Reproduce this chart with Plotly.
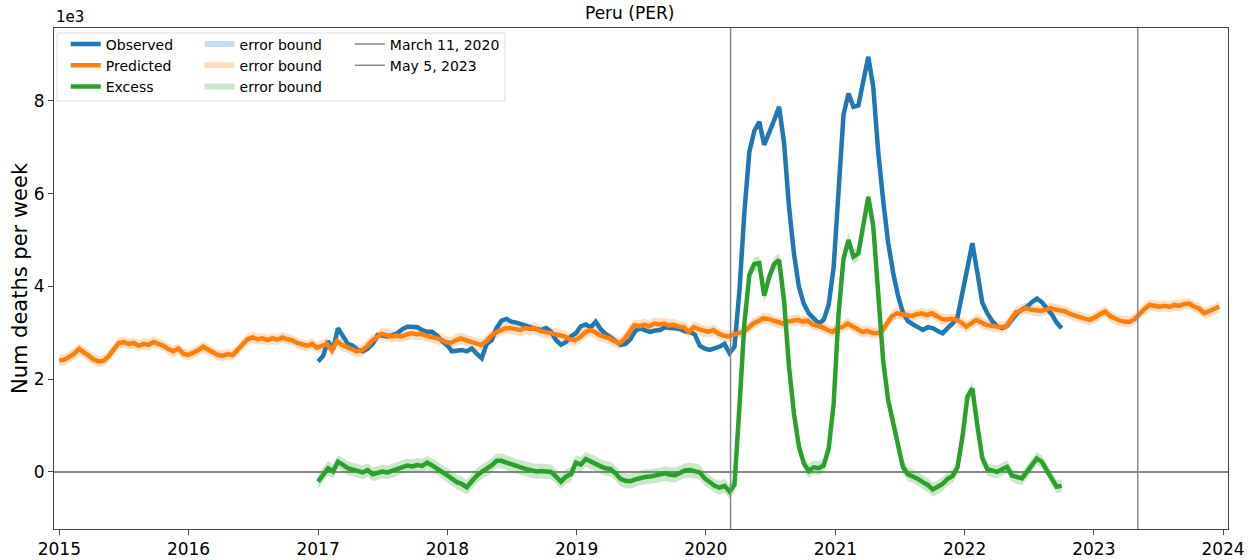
import numpy as np
import pandas as pd
import plotly.graph_objects as go

# weekly-ish series (biweekly samples), values in thousands of deaths per week
predicted = [
    2.40, 2.42, 2.48, 2.55, 2.65, 2.58, 2.50, 2.42, 2.38, 2.40, 2.50, 2.65, 2.78,
    2.80, 2.76, 2.78, 2.72, 2.76, 2.74, 2.80, 2.76, 2.72, 2.65, 2.60, 2.66, 2.55,
    2.52, 2.56, 2.62, 2.70, 2.64, 2.58, 2.52, 2.50, 2.54, 2.52, 2.62, 2.75, 2.86,
    2.90, 2.86, 2.88, 2.84, 2.88, 2.85, 2.90, 2.86, 2.84, 2.78, 2.74, 2.72, 2.76,
    2.68, 2.72, 2.76, 2.62, 2.82, 2.74, 2.70, 2.64, 2.60, 2.62, 2.70, 2.82, 2.90,
    2.98, 2.95, 2.92, 2.94, 2.92, 2.96, 2.99, 2.97, 2.98, 2.94, 2.92, 2.88, 2.86,
    2.80, 2.78, 2.84, 2.88, 2.84, 2.80, 2.76, 2.74, 2.80, 2.92, 3.00, 3.06, 3.10,
    3.10, 3.08, 3.06, 3.10, 3.08, 3.10, 3.04, 3.02, 2.99, 2.98, 2.95, 2.92, 2.86,
    2.84, 2.90, 3.00, 3.06, 3.02, 2.95, 2.92, 2.88, 2.82, 2.77, 2.86, 3.02, 3.16,
    3.14, 3.17, 3.14, 3.20, 3.18, 3.20, 3.16, 3.17, 3.13, 3.12, 3.02, 3.12, 3.08,
    3.04, 3.02, 3.06, 2.98, 2.94, 2.92, 2.96, 3.00, 3.02, 3.10, 3.20, 3.25, 3.31,
    3.30, 3.26, 3.22, 3.20, 3.24, 3.27, 3.28, 3.24, 3.26, 3.18, 3.16, 3.12, 3.06,
    3.02, 3.10, 3.12, 3.20, 3.14, 3.08, 3.02, 3.04, 3.00, 2.99, 3.04, 3.20, 3.36,
    3.42, 3.40, 3.38, 3.36, 3.40, 3.42, 3.38, 3.42, 3.36, 3.30, 3.28, 3.30, 3.28,
    3.22, 3.13, 3.20, 3.28, 3.22, 3.17, 3.15, 3.13, 3.12, 3.14, 3.30, 3.44, 3.48,
    3.53, 3.50, 3.48, 3.47, 3.50, 3.53, 3.50, 3.48, 3.46, 3.40, 3.36, 3.34, 3.30,
    3.28, 3.34, 3.40, 3.46, 3.36, 3.30, 3.26, 3.24, 3.24, 3.30, 3.42, 3.52, 3.60,
    3.58, 3.56, 3.58, 3.56, 3.60, 3.58, 3.62, 3.63, 3.56, 3.52, 3.42, 3.46, 3.50,
    3.56,
]

observed = [
    2.38, 2.50, 2.82, 2.64, 3.10, 2.92, 2.76, 2.72, 2.63, 2.60, 2.66, 2.76, 2.95,
    2.94, 2.92, 2.95, 2.99, 3.08, 3.13, 3.13, 3.12, 3.06, 3.02, 3.02, 2.94, 2.82,
    2.74, 2.60, 2.62, 2.63, 2.60, 2.66, 2.55, 2.45, 2.76, 2.84, 3.10, 3.26, 3.30,
    3.24, 3.22, 3.18, 3.15, 3.12, 3.08, 3.06, 3.10, 3.02, 2.84, 2.74, 2.80, 2.92,
    2.99, 3.14, 3.18, 3.12, 3.24, 3.08, 2.97, 2.90, 2.81, 2.74, 2.76, 2.86, 3.04,
    3.10, 3.05, 3.02, 3.05, 3.06, 3.12, 3.12, 3.10, 3.08, 3.03, 3.02, 2.96, 2.72,
    2.66, 2.63, 2.66, 2.70, 2.76, 2.56, 2.70, 3.90, 5.60, 6.90, 7.35, 7.55, 7.05,
    7.35, 7.58, 7.87, 7.10, 5.72, 4.71, 3.99, 3.62, 3.42, 3.31, 3.20, 3.28, 3.60,
    4.40, 6.20, 7.70, 8.16, 7.87, 7.90, 8.40, 8.95, 8.30, 6.90, 5.85, 4.95, 4.30,
    3.80, 3.43, 3.25, 3.18, 3.12, 3.06, 3.12, 3.10, 3.04, 2.99, 3.10, 3.20, 3.34,
    3.90, 4.50, 4.93, 4.30, 3.65, 3.42, 3.25, 3.14, 3.10, 3.15, 3.30, 3.42, 3.50,
    3.56, 3.66, 3.74, 3.66, 3.52, 3.40, 3.22, 3.10,
]

excess = [
    -0.21, -0.05, 0.08, 0.01, 0.22, 0.15, 0.08, 0.05, 0.02, -0.01, 0.04, -0.05, -0.02,
    0.01, -0.01, 0.03, 0.06, 0.11, 0.14, 0.12, 0.15, 0.13, 0.20, 0.14, 0.08, 0.00,
    -0.07, -0.14, -0.22, -0.26, -0.33, -0.20, -0.08, 0.00, 0.06, 0.14, 0.24, 0.24, 0.20,
    0.16, 0.12, 0.10, 0.06, 0.04, 0.01, 0.02, 0.01, 0.00, -0.10, -0.21, -0.10, -0.05,
    0.20, 0.16, 0.28, 0.22, 0.18, 0.12, 0.08, 0.06, -0.03, -0.15, -0.19, -0.20, -0.16,
    -0.13, -0.11, -0.10, -0.08, -0.07, -0.03, -0.06, -0.07, -0.02, 0.03, 0.04, 0.02, -0.01,
    -0.14, -0.22, -0.30, -0.34, -0.30, -0.42, -0.28, 1.40, 3.20, 4.25, 4.48, 4.50, 3.80,
    4.20, 4.48, 4.57, 3.70, 2.27, 1.26, 0.55, 0.18, 0.02, 0.10, 0.08, 0.14, 0.50,
    1.45, 3.40, 4.60, 5.00, 4.64, 4.71, 5.29, 5.93, 5.30, 3.90, 2.40, 1.55, 1.05,
    0.50, 0.10, -0.05, -0.09, -0.15, -0.22, -0.28, -0.38, -0.33, -0.26, -0.15, -0.09, 0.10,
    0.76, 1.62, 1.80, 1.00, 0.30, 0.06, 0.02, 0.00, 0.06, 0.11, -0.08, -0.12, -0.14,
    0.00, 0.14, 0.29, 0.22, 0.05, -0.14, -0.32, -0.30,
]

# error bound half widths by year, 2015..2024
years = [2015, 2016, 2017, 2018, 2019, 2020, 2021, 2022, 2023, 2024]
pred_err = [0.12, 0.12, 0.13, 0.13, 0.13, 0.12, 0.12, 0.12, 0.12, 0.12]
obs_err = [0.02, 0.02, 0.02, 0.02, 0.02, 0.02, 0.02, 0.02, 0.02, 0.02]
exc_err = [0.15, 0.15, 0.15, 0.16, 0.16, 0.15, 0.15, 0.14, 0.14, 0.14]

event_dates = ["2020-03-11", "2023-05-05"]
event_names = ["March 11, 2020", "May 5, 2023"]

pred_dates = pd.date_range("2015-01-01", periods=len(predicted), freq="14D")
obs_dates = pd.date_range("2017-01-01", periods=len(observed), freq="14D")

BLUE, ORANGE, GREEN = "#1f77b4", "#ff7f0e", "#2ca02c"
FONT = "DejaVu Sans"


def band(dates, values, err):
    v = np.array(values)
    e = np.array([err[years.index(d.year)] for d in dates])
    x = list(dates) + list(dates[::-1])
    y = list(v + e) + list((v - e)[::-1])
    return x, y


fig = go.Figure()

for dates, vals, err, col in [
    (obs_dates, observed, obs_err, "rgba(31,119,180,0.25)"),
    (pred_dates, predicted, pred_err, "rgba(255,127,14,0.25)"),
    (obs_dates, excess, exc_err, "rgba(44,160,44,0.25)"),
]:
    bx, by = band(dates, vals, err)
    fig.add_trace(go.Scatter(x=bx, y=by, fill="toself", fillcolor=col, mode="none",
                             name="error bound", legend="legend2", hoverinfo="skip"))

fig.add_trace(go.Scatter(x=obs_dates, y=observed, mode="lines", name="Observed",
                         line=dict(color=BLUE, width=4.5), legend="legend"))
fig.add_trace(go.Scatter(x=pred_dates, y=predicted, mode="lines", name="Predicted",
                         line=dict(color=ORANGE, width=4.5), legend="legend"))
fig.add_trace(go.Scatter(x=obs_dates, y=excess, mode="lines", name="Excess",
                         line=dict(color=GREEN, width=4.5), legend="legend"))

for d, n in zip(event_dates, event_names):
    fig.add_shape(type="line", x0=d, x1=d, y0=0, y1=1, xref="x", yref="paper",
                  line=dict(color="#888888", width=1.5), showlegend=True, name=n,
                  legend="legend3")

# legend frame
fig.add_shape(type="rect", xref="paper", yref="paper", x0=0.0026, x1=0.384, y0=0.854, y1=0.99,
              line=dict(color="#dddddd", width=1), fillcolor="rgba(255,255,255,0.8)", layer="below")

leg_common = dict(yanchor="top", xanchor="left", bgcolor="rgba(0,0,0,0)", borderwidth=0,
                  font=dict(family=FONT, size=14, color="#000"), tracegroupgap=0, itemwidth=30)

fig.update_layout(
    width=1259, height=560,
    margin=dict(l=54, r=31, t=28, b=31),
    paper_bgcolor="white", plot_bgcolor="white",
    font=dict(family=FONT, color="#000"),
    showlegend=True,
    legend=dict(x=0.010, y=0.999, **leg_common),
    legend2=dict(x=0.124, y=0.999, **leg_common),
    legend3=dict(x=0.252, y=0.999, **leg_common),
    annotations=[
        dict(text="Peru (PER)", x=0.49, y=1, xref="paper", yref="paper", xanchor="center",
             yanchor="bottom", yshift=3, showarrow=False, font=dict(size=17, family=FONT)),
        dict(text="1e3", x=0, y=1, xref="paper", yref="paper", xanchor="left",
             yanchor="bottom", yshift=0, showarrow=False, font=dict(size=15, family=FONT)),
    ],
)

fig.update_xaxes(
    type="date", range=["2014-12-17", "2024-01-15"],
    tickvals=[f"{y}-01-01" for y in years], ticktext=[str(y) for y in years],
    showline=True, mirror=True, linecolor="#444", linewidth=1,
    ticks="outside", ticklen=5, tickcolor="#444", showgrid=False, zeroline=False,
    tickfont=dict(size=17, family=FONT), automargin=False,
)
fig.update_yaxes(
    range=[-1.23, 9.57], tickvals=[0, 2, 4, 6, 8],
    showline=True, mirror=True, linecolor="#444", linewidth=1,
    ticks="outside", ticklen=5, tickcolor="#444", showgrid=False,
    zeroline=True, zerolinecolor="#888888", zerolinewidth=1.5,
    title=dict(text="Num deaths per week", font=dict(size=21, family=FONT), standoff=0),
    tickfont=dict(size=17, family=FONT), automargin=False,
)

# page body has a default margin; drop it so the figure fills the window exactly
fig.write_html("out.html", config={"displayModeBar": False},
               post_script="document.body.style.margin='0';document.body.style.overflow='hidden';")
